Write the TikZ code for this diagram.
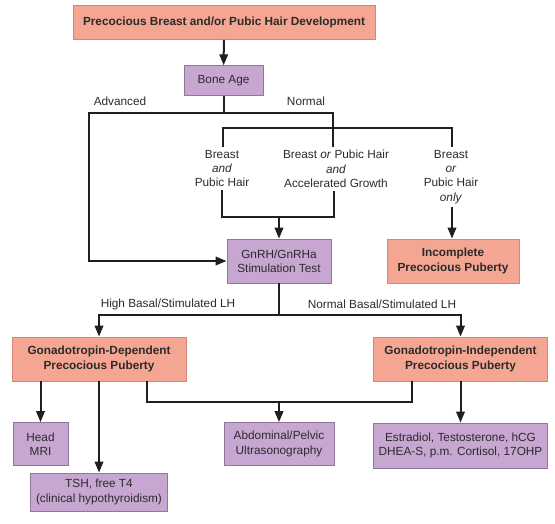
\documentclass[tikz,border=0pt]{standalone}
\usepackage{fontspec}
\setmainfont{Liberation Sans}
\usetikzlibrary{arrows.meta}
\definecolor{salmon}{HTML}{F4A693}
\definecolor{salmonline}{HTML}{D08878}
\definecolor{lilac}{HTML}{C8A6D2}
\definecolor{lilacline}{HTML}{8E7896}
\definecolor{txt}{HTML}{2B2B2B}
\tikzset{
  base/.style={font=\fontsize{11.8}{14.3}\selectfont, text=txt, align=center, inner sep=0pt},
  redbox/.style={base, draw=salmonline, fill=salmon, line width=0.8pt, font=\fontsize{11.8}{14.3}\selectfont\bfseries},
  purplebox/.style={base, draw=lilacline, fill=lilac, line width=0.8pt},
  lbl/.style={base},
  conn/.style={line width=2pt, draw=black!88},
  arr/.style={conn, -{Triangle[length=11pt,width=8.5pt]}}
}
\begin{document}
\begin{tikzpicture}[x=1pt,y=-1pt]
\useasboundingbox (0,0) rectangle (555,523);
% boxes
\node[redbox, minimum width=302pt, minimum height=34pt] (top) at (224,22.5) {Precocious Breast and/or Pubic Hair Development};
\node[purplebox, minimum width=79pt, minimum height=30pt] (bone) at (223.5,80.7) {Bone Age};
\node[purplebox, minimum width=104pt, minimum height=44pt] (gnrh) at (279,261) {GnRH/GnRHa\\Stimulation Test};
\node[redbox, minimum width=132pt, minimum height=44pt] (inc) at (453,261) {Incomplete\\Precocious Puberty};
\node[redbox, minimum width=174pt, minimum height=44pt] (dep) at (99,359) {Gonadotropin-Dependent\\Precocious Puberty};
\node[redbox, minimum width=174pt, minimum height=44pt] (indep) at (460.5,359) {Gonadotropin-Independent\\Precocious Puberty};
\node[purplebox, minimum width=55pt, minimum height=43pt] (mri) at (40.5,444) {Head\\MRI};
\node[purplebox, minimum width=137pt, minimum height=38pt] (tsh) at (99,492) {TSH, free T4\\(clinical hypothyroidism)};
\node[purplebox, minimum width=110pt, minimum height=43pt] (abd) at (279,444) {Abdominal/Pelvic\\Ultrasonography};
\node[purplebox, minimum width=174pt, minimum height=45pt] (estr) at (460.5,445.5) {Estradiol, Testosterone, hCG\\DHEA-S, p.m. Cortisol, 17OHP};
% text nodes
\node[lbl, anchor=north, inner sep=3pt] (t1) at (222,147) {Breast\\\textit{and}\\Pubic Hair};
\node[lbl, anchor=north, inner sep=3pt] (t2) at (336,147) {Breast \textit{or} Pubic Hair\\\textit{and}\\Accelerated Growth};
\node[lbl, anchor=north, inner sep=3pt] (t3) at (451,147) {Breast\\\textit{or}\\Pubic Hair\\\textit{only}};
\node[lbl] (ladv) at (120,101.5) {Advanced};
\node[lbl] (lnrm) at (306,101.5) {Normal};
\node[lbl] (lhigh) at (168,304) {High Basal/Stimulated LH};
\node[lbl] (lnorm) at (382,304) {Normal Basal/Stimulated LH};
% coordinates
\coordinate (j1) at (223.5,113.3);
\coordinate (adv) at (89,113.3);
\coordinate (nrm) at (333,113.3);
\coordinate (b2) at (333,127.5);
\coordinate (b1) at (223,127.5);
\coordinate (b3) at (452,127.5);
\coordinate (m) at (279,217);
\coordinate (c1) at (222,217);
\coordinate (c2) at (333.5,217);
\coordinate (s) at (279,315);
\coordinate (u1) at (147,401.7);
\coordinate (u) at (279,401.7);
\coordinate (u2) at (411.7,401.7);
% connectors
\draw[arr] (top) -- (bone);
\draw[conn] (bone) -- (j1);
\draw[arr] (j1) -- (adv) |- (gnrh.west);
\draw[conn] (j1) -- (nrm) -- (b2);
\draw[conn] (b1 |- t1.north) -- (b1) -- (b3) -- (b3 |- t3.north);
\draw[conn] (b2) -- (b2 |- t2.north);
\draw[conn] (c1 |- t1.south) -- (c1) -- (c2) -- (c2 |- t2.south);
\draw[arr] (m) -- (gnrh);
\draw[arr] (b3 |- t3.south) -- (b3 |- inc.north);
\draw[conn] (gnrh) -- (s);
\draw[arr] (s) -| (dep.north);
\draw[arr] (s) -| (indep.north);
\draw[arr] (mri |- dep.south) -- (mri);
\draw[arr] (dep) -- (tsh);
\draw[conn] (u1 |- dep.south) -- (u1) -- (u2) -- (u2 |- indep.south);
\draw[arr] (u) -- (abd);
\draw[arr] (indep) -- (estr);
\end{tikzpicture}
\end{document}
